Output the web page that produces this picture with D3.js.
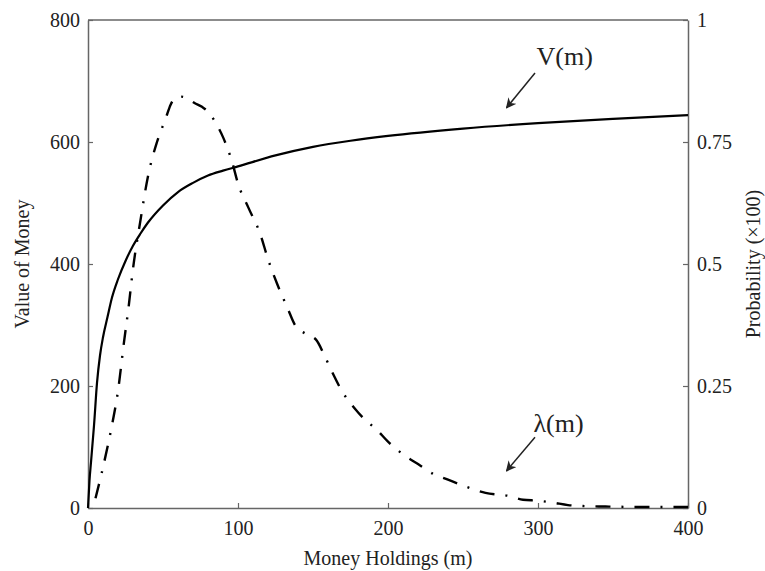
<!DOCTYPE html>
<html>
<head>
<meta charset="utf-8">
<script src="https://cdn.jsdelivr.net/npm/d3@7"></script>
<style>
  body { margin: 0; background: #fff; }
  svg text { font-family: "Liberation Serif", "Times New Roman", serif; fill: #222; }
</style>
</head>
<body>
<div id="grafico"></div>
<script>
// Valor do dinheiro V(m)
const mValor = [0, 1, 2, 3, 4, 6, 8, 10, 13, 16, 20, 25, 30, 35, 40, 50, 60, 70, 80, 90, 100, 125, 150, 175, 200, 250, 300, 350, 400];
const valor  = [0, 45, 75, 105, 135, 205, 250, 280, 313, 345, 375, 405, 430, 450, 468, 496, 518, 533, 545, 553, 560, 578, 592, 602, 610, 622, 631, 638, 644];

// Probabilidade lambda(m) (x100)
const mProb = [5, 9, 13, 16, 20, 24, 27, 30, 35, 40, 46, 52, 55, 58, 62, 66, 71, 76, 80, 85, 90, 96, 100, 107, 115, 120, 126, 133, 138, 145, 152, 158, 163, 170, 177, 185, 192, 200, 210, 220, 230, 240, 250, 265, 280, 290, 300, 310, 320, 330, 345, 370, 400];
const prob  = [0.02, 0.07, 0.125, 0.17, 0.24, 0.34, 0.41, 0.49, 0.59, 0.68, 0.75, 0.80, 0.826, 0.84, 0.843, 0.84, 0.83, 0.822, 0.812, 0.79, 0.76, 0.71, 0.665, 0.615, 0.56, 0.51, 0.46, 0.41, 0.375, 0.357, 0.345, 0.31, 0.277, 0.236, 0.207, 0.18, 0.162, 0.136, 0.11, 0.09, 0.07, 0.058, 0.046, 0.031, 0.025, 0.017, 0.015, 0.011, 0.006, 0.004, 0.003, 0.002, 0.002];

// Ticks
const ticksX = [0, 100, 200, 300, 400];
const ticksEsq = [0, 200, 400, 600, 800];
const ticksDir = [0, 0.25, 0.5, 0.75, 1];
const rotulosDir = ["0", "0.25", "0.5", "0.75", "1"];

const W = 765, H = 571;
const margin = { top: 20, right: 77, bottom: 63, left: 88 };
const width = W - margin.left - margin.right;
const height = H - margin.top - margin.bottom;

const fonte = '"Liberation Serif", "Times New Roman", serif';

const svg = d3.select("#grafico").append("svg")
    .attr("width", W)
    .attr("height", H);

const g = svg.append("g")
    .attr("transform", `translate(${margin.left},${margin.top})`);

// Escalas
const x = d3.scaleLinear().domain([0, 400]).range([0, width]);
const yEsq = d3.scaleLinear().domain([0, 800]).range([height, 0]);
const yDir = d3.scaleLinear().domain([0, 1]).range([height, 0]);

const corEixo = "#666";

function estilo(sel) {
    sel.attr("font-family", fonte);
    sel.select(".domain").attr("stroke", corEixo).attr("stroke-width", 1.5);
    sel.selectAll(".tick line").attr("stroke", corEixo).attr("stroke-width", 1.2);
    sel.selectAll(".tick text").attr("font-size", 20).attr("fill", "#222");
}

// Eixo X
g.append("g")
    .attr("transform", `translate(0,${height})`)
    .call(d3.axisBottom(x).tickValues(ticksX).tickSizeInner(-5).tickSizeOuter(0).tickPadding(13))
    .call(estilo);

// Borda superior
g.append("line")
    .attr("x1", 0).attr("x2", width).attr("y1", 0).attr("y2", 0)
    .attr("stroke", corEixo).attr("stroke-width", 1.5);

// Eixo esquerdo
g.append("g")
    .call(d3.axisLeft(yEsq).tickValues(ticksEsq).tickSizeInner(-5).tickSizeOuter(0).tickPadding(8))
    .call(estilo);

// Eixo direito
g.append("g")
    .attr("transform", `translate(${width},0)`)
    .call(d3.axisRight(yDir).tickValues(ticksDir).tickFormat((d, i) => rotulosDir[i])
        .tickSizeInner(-5).tickSizeOuter(0).tickPadding(9))
    .call(estilo);

// Linha V(m)
g.append("path")
    .datum(mValor.map((m, i) => [m, valor[i]]))
    .attr("fill", "none")
    .attr("stroke", "#000")
    .attr("stroke-width", 2.2)
    .attr("d", d3.line().x(d => x(d[0])).y(d => yEsq(d[1])).curve(d3.curveMonotoneX));

// Linha lambda(m)
g.append("path")
    .datum(mProb.map((m, i) => [m, prob[i]]))
    .attr("fill", "none")
    .attr("stroke", "#000")
    .attr("stroke-width", 2.4)
    .attr("stroke-dasharray", "15,11,2,11")
    .attr("d", d3.line().x(d => x(d[0])).y(d => yDir(d[1])).curve(d3.curveMonotoneX));

// Rotulos dos eixos
svg.append("text")
    .attr("x", margin.left + width / 2)
    .attr("y", 565)
    .attr("text-anchor", "middle")
    .attr("font-size", 20)
    .text("Money Holdings (m)");

svg.append("text")
    .attr("transform", `translate(29,${margin.top + height / 2}) rotate(-90)`)
    .attr("text-anchor", "middle")
    .attr("font-size", 20)
    .text("Value of Money");

svg.append("text")
    .attr("transform", `translate(760,${margin.top + height / 2}) rotate(-90)`)
    .attr("text-anchor", "middle")
    .attr("font-size", 20)
    .text("Probability (×100)");

// Anotacoes com setas
svg.append("defs").append("marker")
    .attr("id", "seta")
    .attr("viewBox", "0 0 10 10")
    .attr("refX", 9).attr("refY", 5)
    .attr("markerWidth", 7).attr("markerHeight", 7)
    .attr("orient", "auto")
    .append("path")
    .attr("d", "M0,0 L10,5 L0,10 L3,5 Z")
    .attr("fill", "#222");

// V(m)
g.append("text")
    .attr("x", x(299)).attr("y", yEsq(726))
    .attr("font-size", 26)
    .text("V(m)");
g.append("line")
    .attr("x1", x(298)).attr("y1", yEsq(713))
    .attr("x2", x(279)).attr("y2", yEsq(656))
    .attr("stroke", "#222").attr("stroke-width", 1.5)
    .attr("marker-end", "url(#seta)");

// lambda(m)
g.append("text")
    .attr("x", x(297)).attr("y", yDir(0.156))
    .attr("font-size", 26)
    .text("λ(m)");
g.append("line")
    .attr("x1", x(298)).attr("y1", yDir(0.145))
    .attr("x2", x(279)).attr("y2", yDir(0.076))
    .attr("stroke", "#222").attr("stroke-width", 1.5)
    .attr("marker-end", "url(#seta)");
</script>
</body>
</html>
